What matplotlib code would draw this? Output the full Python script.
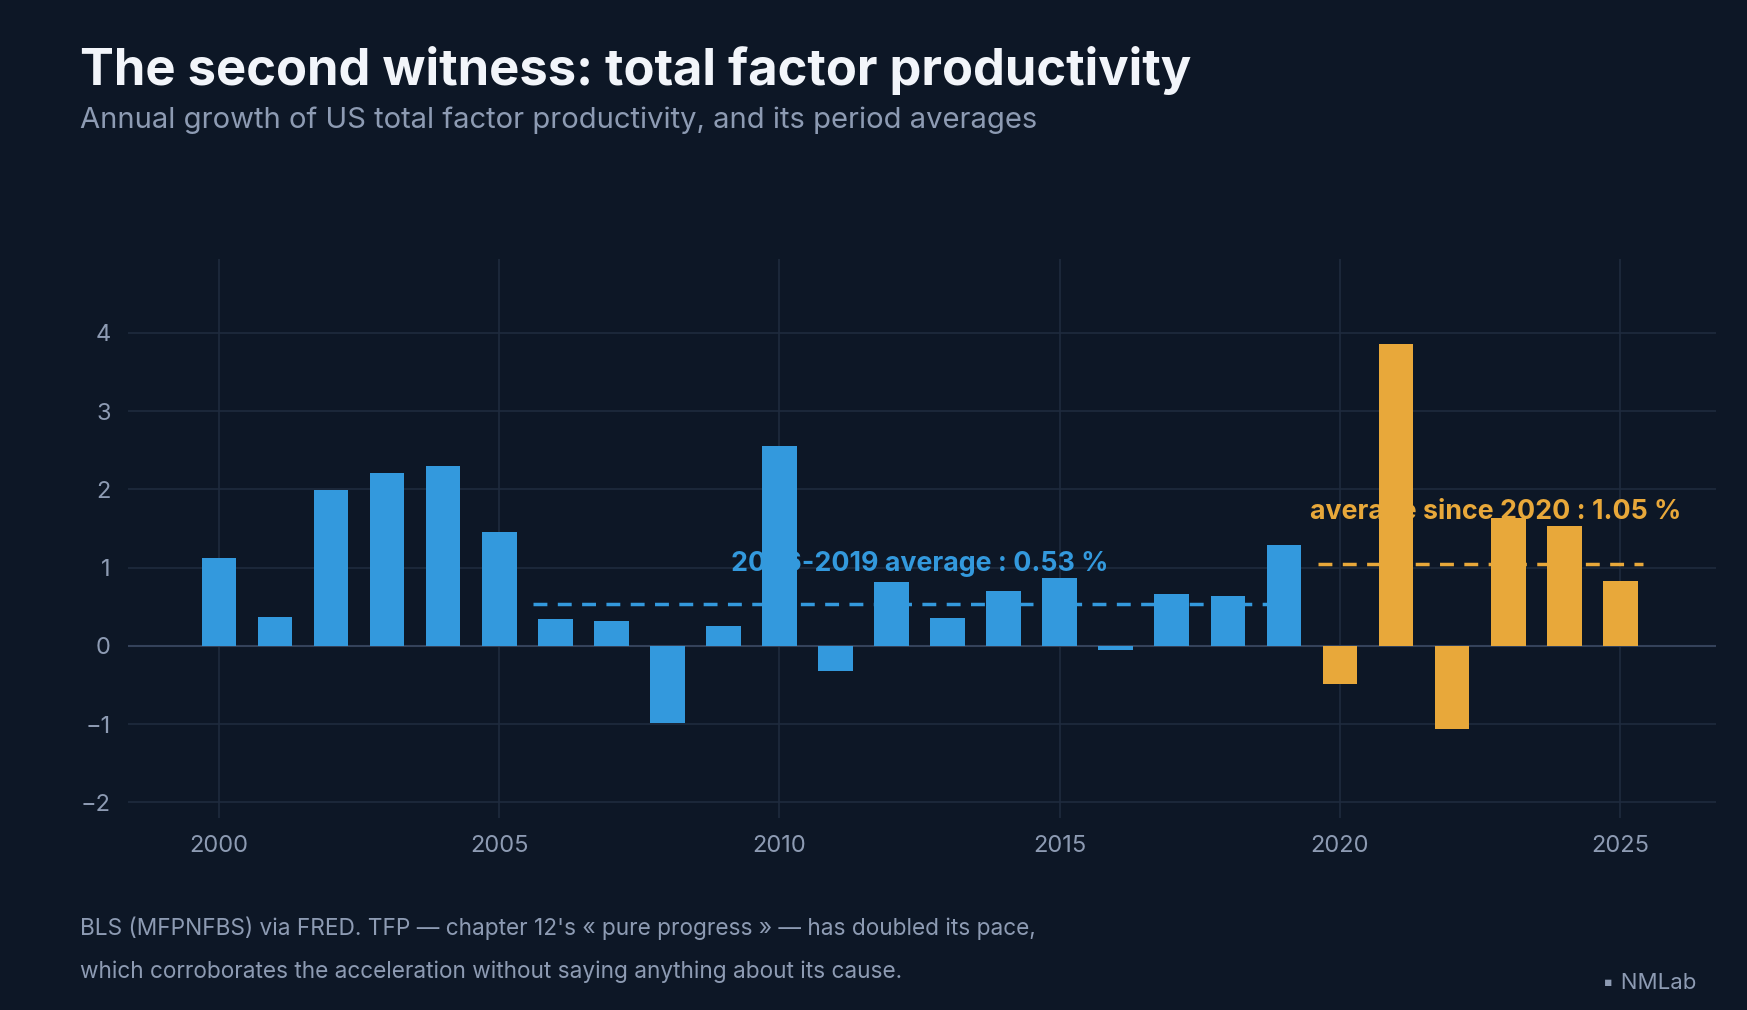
import matplotlib.pyplot as plt

years = list(range(2000, 2026))
tfp = [1.12, 0.37, 1.99, 2.21, 2.30, 1.45, 0.35, 0.32, -0.98, 0.26, 2.55, -0.32, 0.82,
       0.36, 0.70, 0.87, -0.05, 0.67, 0.64, 1.29, -0.49, 3.86, -1.06, 1.63, 1.53, 0.83]
avg_before = 0.53
avg_after = 1.05

bg = '#0d1726'
blue = '#3399dd'
orange = '#e8a83a'
grid = '#1f2b3e'
muted = '#8d9bb3'

plt.rcParams['font.family'] = ['Inter', 'DejaVu Sans']

fig = plt.figure(figsize=(17.47, 10.10), dpi=100, facecolor=bg)
ax = fig.add_axes([0.073, 0.19, 0.909, 0.554], facecolor=bg)

colors = [orange if y >= 2020 else blue for y in years]
ax.bar(years, tfp, width=0.62, color=colors, zorder=3)

ax.hlines(avg_before, 2005.6, 2018.7, colors=blue, linestyles=(0, (4, 3)), linewidth=2.5, zorder=4)
ax.hlines(avg_after, 2019.6, 2025.4, colors=orange, linestyles=(0, (4, 3)), linewidth=2.5, zorder=4)
# labels sit behind the bars, as in the original
ax.text(2012.5, 1.05, '2006-2019 average : 0.53 %', color=blue, fontsize=19.3, fontweight='bold',
        ha='center', va='center', zorder=2.5)
ax.text(2022.78, 1.72, 'average since 2020 : 1.05 %', color=orange, fontsize=19.3, fontweight='bold',
        ha='center', va='center', zorder=2.5)

ax.set_xlim(1998.37, 2026.7)
ax.set_ylim(-2.2, 4.95)
ax.set_xticks([2000, 2005, 2010, 2015, 2020, 2025])
ax.set_yticks([-2, -1, 0, 1, 2, 3, 4])
ax.set_yticklabels(['\u22122', '\u22121', '0', '1', '2', '3', '4'])
ax.grid(True, color=grid, linewidth=1.2, zorder=0)
ax.axhline(0, color='#34425a', linewidth=1.5, zorder=2)
ax.tick_params(colors=muted, labelsize=17, length=0, pad=12)
for s in ax.spines.values():
    s.set_visible(False)

fig.text(0.046, 0.93, 'The second witness: total factor productivity', color='#f2f5fa',
         fontsize=36.5, fontweight='bold', va='center')
fig.text(0.046, 0.881, 'Annual growth of US total factor productivity, and its period averages',
         color=muted, fontsize=21, va='center')
fig.text(0.046, 0.081, "BLS (MFPNFBS) via FRED. TFP \u2014 chapter 12's \u00ab pure progress \u00bb \u2014 has doubled its pace,",
         color=muted, fontsize=16.3, va='center')
fig.text(0.046, 0.038, 'which corroborates the acceleration without saying anything about its cause.',
         color=muted, fontsize=16.3, va='center')
fig.text(0.971, 0.027, '\u25aa NMLab', color=muted, fontsize=16, ha='right', va='center')

fig.savefig('out.png', dpi=100, facecolor=bg)
